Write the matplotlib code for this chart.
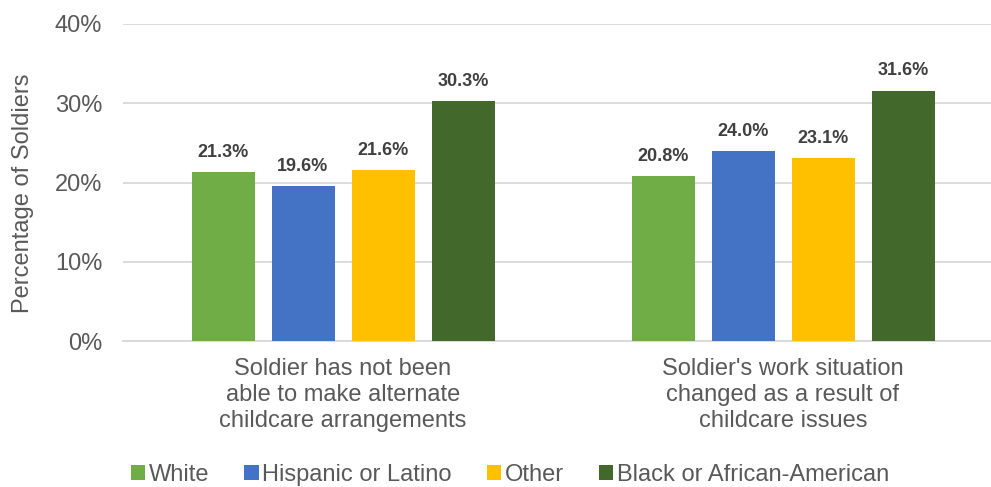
import matplotlib
matplotlib.use("Agg")
import matplotlib.pyplot as plt
import numpy as np

plt.rcParams['font.family'] = ['Liberation Sans', 'DejaVu Sans']

categories = [
    "Soldier has not been\nable to make alternate\nchildcare arrangements",
    "Soldier's work situation\nchanged as a result of\nchildcare issues",
]
series_names = ["White", "Hispanic or Latino", "Other", "Black or African-American"]
white = [21.3, 20.8]
hispanic = [19.6, 24.0]
other = [21.6, 23.1]
black = [30.3, 31.6]
colors = ["#70AD47", "#4472C4", "#FFC000", "#43682B"]
y_ticks = [0, 10, 20, 30, 40]
y_tick_labels = ["0%", "10%", "20%", "30%", "40%"]

series = [white, hispanic, other, black]

W, H = 991, 487
FS = 17
fig = plt.figure(figsize=(W / 100, H / 100), dpi=100)
ax = fig.add_axes([123 / W, 146 / H, 880 / W, 317 / H])

x = np.arange(len(categories))
slot = 80 / 440
bar_w = 63 / 440
for i, (vals, name, col) in enumerate(zip(series, series_names, colors)):
    pos = x + (i - 1.5) * slot
    bars = ax.bar(pos, vals, width=bar_w, color=col, label=name, zorder=3)
    for b, v in zip(bars, vals):
        ax.annotate(f"{v:.1f}%", (b.get_x() + b.get_width() / 2, v),
                    xytext=(0, 8), textcoords="offset points",
                    ha="center", va="bottom", fontsize=13,
                    fontweight="bold", color="#404040")

ax.set_xlim(-0.5, 1.5)
ax.set_ylim(0, 40)
ax.set_yticks(y_ticks)
ax.set_yticklabels(y_tick_labels)
ax.set_xticks(x)
ax.set_xticklabels(categories, linespacing=1.25)
ax.tick_params(axis="y", length=0, pad=15, labelsize=FS, labelcolor="#595959")
ax.tick_params(axis="x", length=0, pad=12, labelsize=FS, labelcolor="#595959")

ax.grid(axis="y", color="#D9D9D9", linewidth=1.3, zorder=0)
for side in ["left", "right", "top"]:
    ax.spines[side].set_visible(False)
ax.spines["bottom"].set_color("#D9D9D9")
ax.spines["bottom"].set_linewidth(1.3)

fig.text(23 / W, 1 - 193 / H, "Percentage of Soldiers", rotation=90,
         ha="center", va="center", fontsize=FS, color="#595959")

fig.legend(loc="center", bbox_to_anchor=(510 / W, 1 - 475 / H), ncol=4,
           frameon=False, fontsize=FS, labelcolor="#595959",
           handlelength=0.6, handleheight=0.6, handletextpad=0.15,
           columnspacing=1.5, borderpad=0, borderaxespad=0)

fig.savefig("out.png", dpi=100)
